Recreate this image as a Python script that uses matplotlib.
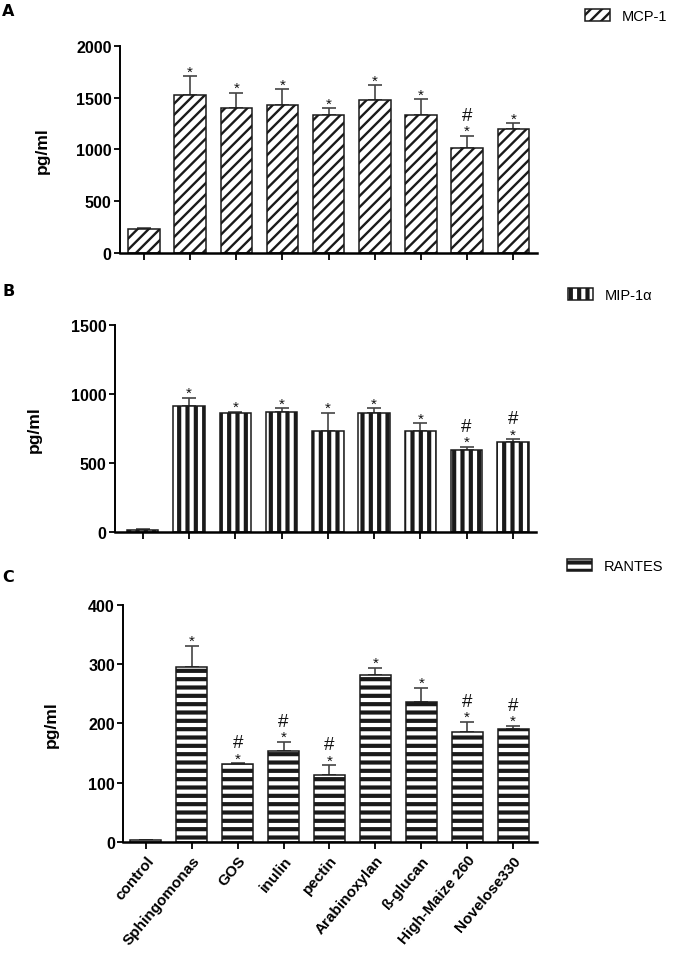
import matplotlib
matplotlib.use("Agg")
import matplotlib.pyplot as plt
import numpy as np

plt.rcParams['font.family'] = ['Liberation Sans', 'DejaVu Sans']

categories = ["control", "Sphingomonas", "GOS", "inulin", "pectin",
              "Arabinoxylan", "ß-glucan", "High-Maize 260", "Novelose330"]

mcp1_mean = [231, 1527, 1399, 1427, 1328, 1479, 1331, 1009, 1192]
mcp1_err = [8, 180, 147, 155, 70, 140, 150, 123, 62]
mcp1_star = [False, True, True, True, True, True, True, True, True]
mcp1_hash = [False, False, False, False, False, False, False, True, False]

mip_mean = [19, 912, 861, 871, 733, 863, 733, 598, 651]
mip_err = [3, 60, 12, 26, 133, 34, 58, 22, 24]
mip_star = [False, True, True, True, True, True, True, True, True]
mip_hash = [False, False, False, False, False, False, False, True, True]

rantes_mean = [3, 296, 132, 154, 113, 281, 236, 186, 190]
rantes_err = [0.5, 35, 0.5, 15, 16, 13, 24, 17, 6]
rantes_star = [False, True, True, True, True, True, True, True, True]
rantes_hash = [False, False, True, True, True, False, False, True, True]

W, H = 675, 954
fig = plt.figure(figsize=(W / 100, H / 100), dpi=100)


def px_axes(left, right, top, bottom):
    return fig.add_axes([left / W, 1 - bottom / H, (right - left) / W, (bottom - top) / H])


panels = [
    dict(box=(120, 537.3, 46.7, 254), xlim=(-0.52, 8.52), ylim=(0, 2000), ticks=[0, 500, 1000, 1500, 2000],
         mean=mcp1_mean, err=mcp1_err, star=mcp1_star, hsh=mcp1_hash, hatch='///', hlw=1.7,
         name='MCP-1', leg=(585, 17), label='A', lab=(2, 11), ylab=-0.168),
    dict(box=(115, 536, 326, 533.3), xlim=(-0.6, 8.5), ylim=(0, 1500), ticks=[0, 500, 1000, 1500],
         mean=mip_mean, err=mip_err, star=mip_star, hsh=mip_hash, hatch='||', hlw=3.0,
         name='MIP-1\u03b1', leg=(568, 296), label='B', lab=(2, 292), ylab=-0.173),
    dict(box=(123.3, 537, 606, 842.7), xlim=(-0.49, 8.52), ylim=(0, 400), ticks=[0, 100, 200, 300, 400],
         mean=rantes_mean, err=rantes_err, star=rantes_star, hsh=rantes_hash, hatch='--', hlw=3.0,
         name='RANTES', leg=(567, 567), label='C', lab=(2, 577), ylab=-0.155),
]

x = np.arange(len(categories))
for i, p in enumerate(panels):
    ax = px_axes(*p['box'])
    with plt.rc_context({'hatch.linewidth': p['hlw']}):
        bars = ax.bar(x, p['mean'], width=0.68, color='white', edgecolor='#1a1a1a',
                      linewidth=1.1, hatch=p['hatch'], label=p['name'], zorder=2)
    for b in bars:
        if hasattr(b, 'set_hatch_linewidth'):
            b.set_hatch_linewidth(p['hlw'])
    lower = np.zeros(len(x))
    ax.errorbar(x, p['mean'], yerr=[lower, p['err']], fmt='none', ecolor='#444444',
                elinewidth=1.2, capsize=5, capthick=1.2, zorder=1)
    top = np.array(p['mean']) + np.array(p['err'])
    for xi, t, s, h in zip(x, top, p['star'], p['hsh']):
        if s:
            ax.annotate('*', (xi, t), xytext=(0, 0.5), textcoords='offset points',
                        ha='center', va='baseline', fontsize=11, color='#111111')
        if h:
            ax.annotate('#', (xi, t), xytext=(0, 11.5), textcoords='offset points',
                        ha='center', va='baseline', fontsize=13.5, color='#111111')
    ax.set_xlim(*p['xlim'])
    ax.set_ylim(*p['ylim'])
    ax.set_yticks(p['ticks'])
    ax.set_yticklabels([str(t) for t in p['ticks']], fontsize=11.5, fontweight='bold')
    ax.set_xticks(x)
    if i == 2:
        ax.set_xticklabels(categories, rotation=50, ha='right', rotation_mode='anchor',
                           fontsize=11, fontweight='bold')
    else:
        ax.set_xticklabels([])
    for side in ['top', 'right']:
        ax.spines[side].set_visible(False)
    ax.spines['left'].set_linewidth(1.4)
    ax.spines['bottom'].set_linewidth(1.8)
    ax.tick_params(axis='y', length=4, width=1.3, pad=2)
    ax.tick_params(axis='x', length=5, width=1.3, pad=3)
    ax.set_ylabel('pg/ml', fontsize=12.5, fontweight='bold')
    ax.yaxis.set_label_coords(p['ylab'], 0.5)
    lx, ly = p['leg']
    leg = ax.legend(loc='center left', bbox_to_anchor=(lx / W, 1 - ly / H),
                    bbox_transform=fig.transFigure, frameon=False, borderpad=0,
                    borderaxespad=0, fontsize=10.5, handlelength=1.7, handleheight=0.8,
                    handletextpad=0.8)
    for hp in leg.get_patches():
        if hasattr(hp, 'set_hatch_linewidth'):
            hp.set_hatch_linewidth(p['hlw'])
    fig.text(p['lab'][0] / W, 1 - p['lab'][1] / H, p['label'], fontsize=11.5,
             fontweight='heavy', family='DejaVu Sans', ha='left', va='center')

fig.savefig('out.png', dpi=100)
